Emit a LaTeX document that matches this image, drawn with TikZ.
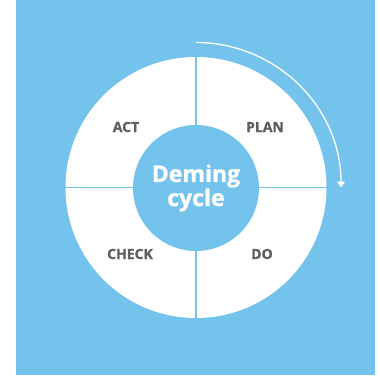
\documentclass[tikz,border=0pt]{standalone}
\usepackage{fontspec}
\setmainfont{Open Sans}[BoldFeatures={FakeBold=1}]
\usetikzlibrary{arrows.meta}
\definecolor{skyblue}{HTML}{74C3EC}
\definecolor{labelgray}{HTML}{5E5E5E}
\begin{document}
\begin{tikzpicture}[x=1pt,y=-1pt,
  phase/.style={font=\fontsize{14}{16}\selectfont\bfseries, text=labelgray, inner sep=0pt},
  divider/.style={draw=skyblue, line width=1.3pt},
  hub/.style={circle, fill=skyblue, minimum size=126pt, inner sep=0pt,
    text=white, align=center, font=\fontsize{23}{22.7}\selectfont\bfseries},
  flow/.style={draw=white, line width=1.3pt, -{Triangle[width=8pt,length=6pt]}}]
  \useasboundingbox (0,0) rectangle (380,377);
  % background panel
  \fill[skyblue] (16,0) rectangle (375,375);
  % white ring
  \coordinate (c) at (196,187.5);
  \fill[white] (c) circle[radius=130.5];
  % quadrant dividers
  \draw[divider] (65,187.5) -- (327,187.5);
  \draw[divider] (196,57) -- (196,318);
  % centre disc
  \node[hub] (hub) at (196,188) {Deming\\cycle};
  % phase labels
  \node[phase] (act) at (126,127) {ACT};
  \node[phase] (plan) at (265,127) {PLAN};
  \node[phase] (check) at (130,254) {CHECK};
  \node[phase] (do) at (262,254) {DO};
  % direction of the cycle (clockwise from the top)
  \coordinate (start) at (196,42.5);
  \draw[flow] (start) arc[start angle=-90, end angle=0, radius=145];
\end{tikzpicture}
\end{document}
